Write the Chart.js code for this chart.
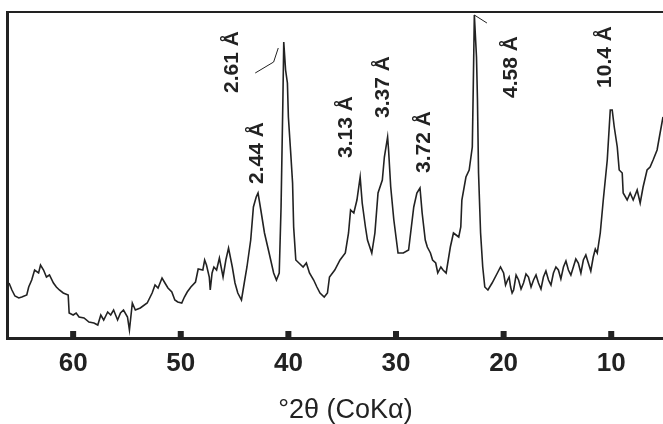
<!DOCTYPE html>
<html lang="en">
<head>
    <meta charset="UTF-8">
    <title>XRD pattern</title>
    <style>
        html, body { margin: 0; padding: 0; background: #fff; }
        #wrap { width: 663px; height: 424px; position: relative; }
    </style>
</head>
<body>
    <div id="wrap"><canvas id="xrd"></canvas></div>

    <script src="https://cdn.jsdelivr.net/npm/chart.js"></script>
    <script>
        // diffraction trace, degrees 2-theta (CoKa) vs intensity (arbitrary units)
        var twoTheta = [
            65.96, 65.69, 65.41, 65.05, 64.77, 64.31, 64.13, 63.85, 63.58, 63.21,
            63.03, 62.75, 62.48, 62.20, 61.83, 61.56, 61.28, 60.92, 60.46, 60.37,
            60.00, 59.72, 59.45, 58.99, 58.53, 58.07, 57.71, 57.43, 57.16, 56.79,
            56.51, 56.24, 55.87, 55.60, 55.32, 54.95, 54.77, 54.50, 54.22, 53.76,
            53.12, 52.66, 52.39, 52.11, 51.74, 51.47, 51.19, 50.83, 50.55, 50.28,
            49.91, 49.66, 49.40, 49.06, 48.63, 48.38, 47.95, 47.78, 47.61, 47.35,
            47.26, 47.09, 46.92, 46.67, 46.41, 46.07, 45.81, 45.56, 45.21, 44.96,
            44.70, 44.36, 44.10, 43.85, 43.50, 43.25, 42.99, 42.82, 42.56, 42.22,
            41.79, 41.37, 41.11, 40.85, 40.68, 40.51, 40.43, 40.26, 40.09,
            40.00, 39.80, 39.61, 39.51, 39.31, 39.02, 38.63, 38.33, 38.04, 37.65,
            37.35, 37.06, 36.67, 36.37, 36.18, 35.69, 35.20, 34.71, 34.41, 34.22,
            33.92, 33.63, 33.33, 33.14, 32.84, 32.65, 32.25, 31.96, 31.67, 31.27,
            31.08, 30.78, 30.69, 30.49, 30.20,
            29.81, 29.32, 28.83, 28.35, 28.06, 27.77, 27.57, 27.28, 27.09, 26.80,
            26.60, 26.31, 26.12, 25.83, 25.63, 25.34, 24.95, 24.66, 24.17, 23.98,
            23.88, 23.50, 23.20, 22.91, 22.82, 22.72, 22.52, 22.43, 22.33, 22.14,
            21.94, 21.75, 21.46, 21.07, 20.58, 20.29,
            20.00, 19.82, 19.63, 19.49, 19.35, 19.21, 19.07, 18.84, 18.61, 18.38,
            18.15, 17.92, 17.69, 17.45, 17.22, 16.99, 16.76, 16.53, 16.30, 16.07,
            15.83, 15.60, 15.37, 15.14, 14.91, 14.68, 14.44, 14.21, 13.98, 13.75,
            13.52, 13.29, 13.06, 12.82, 12.59, 12.36, 12.13, 11.90, 11.67, 11.48,
            11.30, 11.02, 10.74, 10.37, 10.09, 9.91, 9.72, 9.44, 9.26, 8.98,
            8.89, 8.52, 8.24, 7.96, 7.59, 7.31, 7.04, 6.67, 6.39, 6.11,
            5.74, 5.46, 5.19
        ];
        var intensity = [
            54, 47, 41, 39, 40, 42, 50, 57, 67, 64,
            72, 67, 60, 62, 54, 50, 47, 44, 42, 24,
            22, 24, 20, 19, 15, 14, 12, 22, 17, 25,
            22, 27, 17, 24, 27, 20, 7, 34, 27, 29,
            34, 44, 52, 49, 59, 54, 49, 45, 37, 35,
            34, 40, 45, 50, 55, 68, 67, 77, 72, 60,
            47, 64, 70, 67, 79, 60, 77, 89, 70, 54,
            44, 37, 54, 70, 97, 130, 140, 144, 127, 104,
            84, 64, 57, 64, 130, 237, 295, 267, 254,
            220, 187, 154, 110, 77, 74, 70, 74, 64, 57,
            50, 44, 40, 44, 60, 67, 77, 84, 104, 127,
            124, 137, 160, 134, 110, 97, 84, 104, 144, 157,
            180, 200, 187, 150, 117,
            84, 84, 87, 130, 144, 149, 124, 97, 90, 84,
            77, 74, 64, 70, 67, 64, 90, 104, 100, 110,
            137, 160, 167, 190, 250, 322, 280, 237, 164, 104,
            70, 50, 47, 54, 64, 70,
            64, 52, 57, 60, 50, 44, 47, 62, 57, 48,
            54, 63, 60, 50, 57, 62, 54, 48, 60, 66,
            57, 52, 64, 70, 67, 58, 70, 76, 67, 62,
            70, 78, 74, 64, 77, 82, 74, 66, 80, 88,
            84, 104, 137, 177, 227, 227, 210, 190, 167, 164,
            144, 137, 144, 137, 147, 134, 150, 167, 170, 177,
            187, 204, 220
        ];

        var tickValues = [60, 50, 40, 30, 20, 10];

        // d-spacing labels, placed at (2-theta, intensity)
        var peakLabels = ["2.61 Å", "2.44 Å", "3.13 Å", "3.37 Å", "3.72 Å", "4.58 Å", "10.4 Å"];
        var peakTheta = [45.21, 42.91, 34.61, 31.18, 27.38, 19.26, 10.56];
        var peakY = [275, 184, 210, 250, 195, 270, 280];

        // small pen strokes near the two cut-off peaks
        var strokeATheta = [43.08, 41.37, 40.94];
        var strokeAY = [264, 275, 289];
        var strokeBTheta = [22.72, 21.55];
        var strokeBY = [322, 314];

        var axisTitle = "°2θ (CoKα)";
        var axisTitleTheta = 34.7;

        var ink = "#222";
        var fontFamily = 'Arial, "Liberation Sans", sans-serif';

        function pairs(xs, ys) {
            return xs.map(function (v, i) { return { x: v, y: ys[i] }; });
        }

        var decor = {
            id: "decor",
            afterDatasetsDraw: function (chart) {
                var ctx = chart.ctx;
                var a = chart.chartArea;
                var x = chart.scales.x;
                var y = chart.scales.y;
                ctx.save();
                ctx.fillStyle = ink;

                // frame: left, top, bottom (right side is cut off in the scan)
                ctx.fillRect(a.left - 3, a.top - 2, 3, a.bottom - a.top + 5);
                ctx.fillRect(a.left - 3, a.top - 2, a.right - a.left + 3, 2);
                ctx.fillRect(a.left - 3, a.bottom, a.right - a.left + 3, 3);

                // inward tick marks
                tickValues.forEach(function (v) {
                    var px = x.getPixelForValue(v);
                    ctx.fillRect(px - 3, a.bottom - 6, 6, 6);
                });

                // rotated d-spacing labels
                ctx.font = "bold 21px " + fontFamily;
                ctx.textAlign = "center";
                ctx.textBaseline = "middle";
                peakLabels.forEach(function (t, i) {
                    ctx.save();
                    ctx.translate(x.getPixelForValue(peakTheta[i]), y.getPixelForValue(peakY[i]));
                    ctx.rotate(-Math.PI / 2);
                    ctx.fillText(t, 0, 0);
                    ctx.restore();
                });

                // axis title
                ctx.font = "27px " + fontFamily;
                ctx.fillText(axisTitle, x.getPixelForValue(axisTitleTheta), a.bottom + 74);
                ctx.restore();
            }
        };

        new Chart(document.getElementById("xrd"), {
            type: "line",
            data: {
                datasets: [
                    {
                        data: pairs(twoTheta, intensity),
                        borderColor: ink,
                        borderWidth: 1.6,
                        pointRadius: 0,
                        tension: 0
                    },
                    {
                        data: pairs(strokeATheta, strokeAY),
                        borderColor: ink,
                        borderWidth: 1,
                        pointRadius: 0
                    },
                    {
                        data: pairs(strokeBTheta, strokeBY),
                        borderColor: ink,
                        borderWidth: 1,
                        pointRadius: 0
                    }
                ]
            },
            options: {
                responsive: true,
                maintainAspectRatio: false,
                animation: false,
                layout: { padding: { left: 9, top: 13, right: 0, bottom: 0 } },
                plugins: {
                    legend: { display: false },
                    tooltip: { enabled: false }
                },
                scales: {
                    x: {
                        type: "linear",
                        reverse: true,
                        min: 5.19,
                        max: 65.96,
                        grid: { display: false, drawTicks: false },
                        border: { display: false },
                        afterBuildTicks: function (scale) {
                            scale.ticks = tickValues.map(function (v) { return { value: v }; });
                        },
                        afterFit: function (scale) {
                            scale.height = 87;
                        },
                        ticks: {
                            autoSkip: false,
                            maxRotation: 0,
                            padding: 11,
                            color: ink,
                            font: { family: fontFamily, size: 26, weight: "bold" }
                        }
                    },
                    y: {
                        display: false,
                        min: 0,
                        max: 324
                    }
                }
            },
            plugins: [decor]
        });
    </script>
</body>
</html>
